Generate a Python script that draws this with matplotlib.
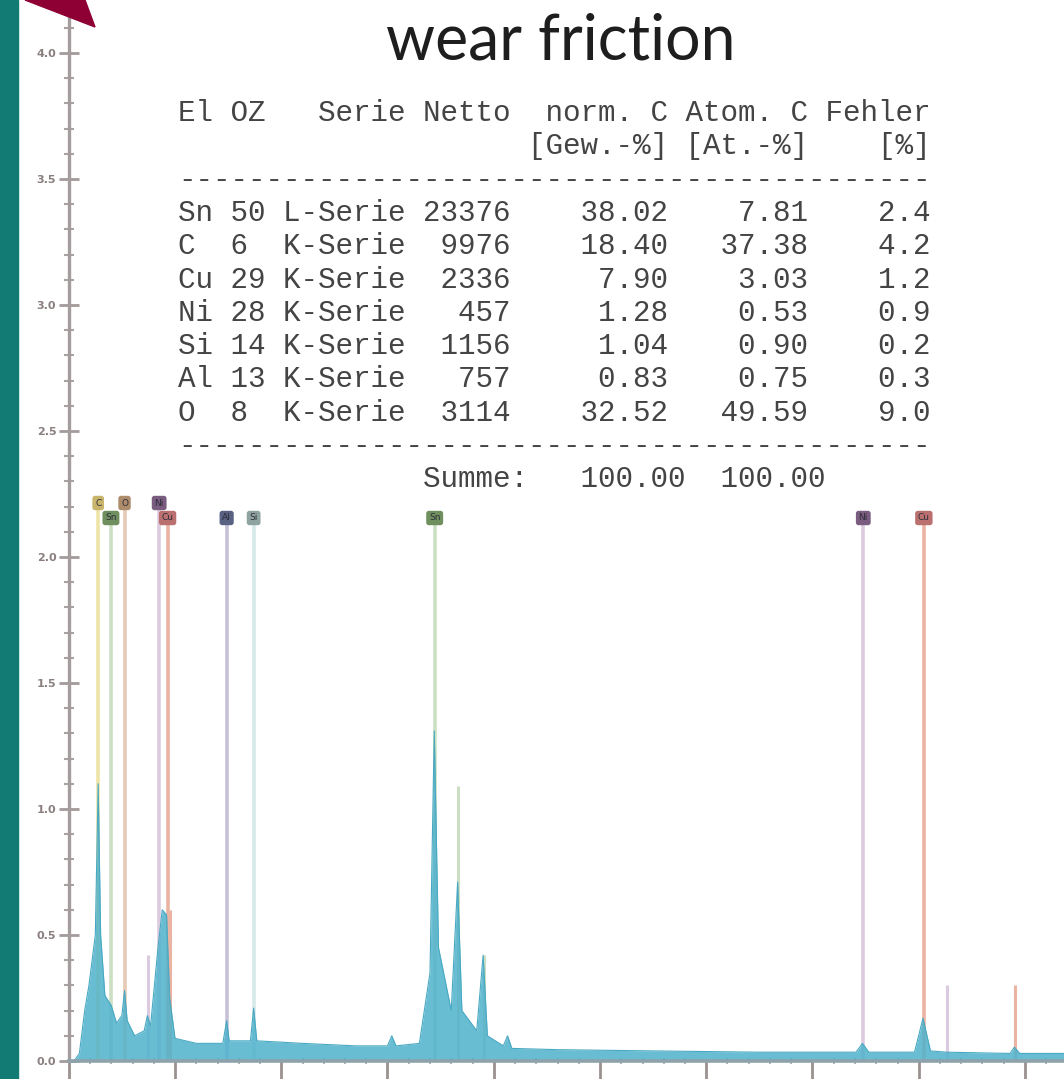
import numpy as np
import matplotlib.pyplot as plt
from matplotlib.patches import Polygon, Rectangle

# spectrum: energy [keV] vs intensity [cps/eV]
energy = [0.05, 0.10, 0.15, 0.19, 0.25, 0.277, 0.30, 0.34, 0.40, 0.45, 0.50, 0.525,
          0.55, 0.62, 0.71, 0.74, 0.77, 0.84, 0.88, 0.92, 0.95, 1.00, 1.20, 1.45,
          1.486, 1.51, 1.71, 1.74, 1.77, 2.20, 2.70, 3.00, 3.04, 3.08, 3.30, 3.40,
          3.44, 3.48, 3.60, 3.66, 3.70, 3.84, 3.90, 3.94, 4.09, 4.13, 4.17, 4.60,
          5.50, 6.50, 7.41, 7.47, 7.53, 7.96, 8.04, 8.11, 8.26, 8.86, 8.90, 8.95, 9.40]
counts = [0.00, 0.03, 0.20, 0.30, 0.50, 1.10, 0.50, 0.26, 0.22, 0.15, 0.18, 0.28,
          0.16, 0.10, 0.12, 0.18, 0.14, 0.45, 0.60, 0.58, 0.25, 0.09, 0.07, 0.07,
          0.16, 0.08, 0.08, 0.21, 0.08, 0.07, 0.06, 0.06, 0.10, 0.06, 0.07, 0.35,
          1.31, 0.45, 0.20, 0.71, 0.20, 0.12, 0.42, 0.10, 0.06, 0.10, 0.05, 0.045,
          0.04, 0.035, 0.035, 0.07, 0.035, 0.035, 0.17, 0.04, 0.035, 0.03, 0.055, 0.03, 0.03]

# element markers (full height, with label box)
mark_el = ['C', 'Sn', 'O', 'Ni', 'Cu', 'Al', 'Si', 'Sn', 'Ni', 'Cu']
mark_kev = [0.277, 0.397, 0.525, 0.851, 0.930, 1.486, 1.740, 3.444, 7.478, 8.048]
mark_row = [1, 2, 1, 1, 2, 2, 2, 2, 2, 2]
# secondary lines (short)
sub_el = ['Ni', 'Cu', 'Sn', 'Sn', 'Ni', 'Cu']
sub_kev = [0.743, 0.949, 3.663, 3.905, 8.265, 8.905]
sub_top = [0.42, 0.60, 1.09, 0.42, 0.30, 0.30]

box_col = {'C': '#c8b46a', 'O': '#ad8c6c', 'Ni': '#7a5c80', 'Sn': '#6f8f5e',
           'Cu': '#bb7070', 'Al': '#5a6284', 'Si': '#8fa3a0'}
line_col = {'C': '#efe4a8', 'O': '#e6cbb8', 'Ni': '#dccbe0', 'Sn': '#cddfc2',
            'Cu': '#eab3a2', 'Al': '#c6c0d6', 'Si': '#d6e8e8'}

table_lines = [
    "El OZ   Serie Netto  norm. C Atom. C Fehler",
    "                    [Gew.-%] [At.-%]    [%]",
    "-------------------------------------------",
    "Sn 50 L-Serie 23376    38.02    7.81    2.4",
    "C  6  K-Serie  9976    18.40   37.38    4.2",
    "Cu 29 K-Serie  2336     7.90    3.03    1.2",
    "Ni 28 K-Serie   457     1.28    0.53    0.9",
    "Si 14 K-Serie  1156     1.04    0.90    0.2",
    "Al 13 K-Serie   757     0.83    0.75    0.3",
    "O  8  K-Serie  3114    32.52   49.59    9.0",
    "-------------------------------------------",
    "              Summe:   100.00  100.00",
]

W, H = 1064, 1079
fig = plt.figure(figsize=(W / 100, H / 100), dpi=100)
fig.patch.set_facecolor('white')

x0 = 68.75
px_kev = 106.25
y0 = 1061
px_cps = 252
ax = fig.add_axes([x0 / W, (H - y0) / H, 1 - x0 / W, y0 / H])
ax.set_xlim(0, (W - x0) / px_kev)
ax.set_ylim(0, y0 / px_cps)

for e, el, r in zip(mark_kev, mark_el, mark_row):
    top = (y0 - (503 if r == 1 else 518)) / px_cps
    ax.plot([e, e], [0, top], color=line_col[el], lw=2.6, zorder=1, solid_capstyle='butt')
for e, el, t in zip(sub_kev, sub_el, sub_top):
    ax.plot([e, e], [0, t], color=line_col[el], lw=2.2, zorder=1, solid_capstyle='butt')

ax.fill_between(energy, counts, 0, color='#4fb2cc', alpha=0.85, lw=0, zorder=2)
ax.plot(energy, counts, color='#49a9c2', lw=0.8, zorder=2)

for e, el, r in zip(mark_kev, mark_el, mark_row):
    yy = (y0 - (503 if r == 1 else 518)) / px_cps
    ax.text(e, yy, el, ha='center', va='center', fontsize=6.5, color='#2e2e3a',
            zorder=4, bbox=dict(boxstyle='round,pad=0.3', fc=box_col[el], ec='none'))

ax.set_yticks(np.arange(0, 4.01, 0.5))
ax.set_yticks(np.arange(0, 4.21, 0.1), minor=True)
ax.set_yticklabels(['%.1f' % v for v in np.arange(0, 4.01, 0.5)])
ax.set_xticks(np.arange(0, 10, 1.0))
ax.set_xticks(np.arange(0, 9.4, 0.2), minor=True)
ax.tick_params(axis='y', which='major', direction='inout', length=14, width=2,
               color='#a39a9a', labelsize=8, labelcolor='#8a7f7f', pad=2)
ax.tick_params(axis='y', which='minor', direction='inout', length=7, width=1.5, color='#aaa2a2')
ax.tick_params(axis='x', which='major', direction='out', length=14, width=2,
               color='#9a9090', labelbottom=False)
ax.tick_params(axis='x', which='minor', direction='inout', length=5, width=1.2, color='#a0a8ae')
for lab in ax.get_yticklabels():
    lab.set_fontweight('bold')
for s in ['top', 'right']:
    ax.spines[s].set_visible(False)
ax.spines['left'].set_color('#a59d9d')
ax.spines['left'].set_linewidth(2.4)
ax.spines['bottom'].set_color('#8fa2ab')
ax.spines['bottom'].set_linewidth(2.6)
ax.set_facecolor('none')

# left bar and corner triangle
fig.patches.append(Rectangle((0, 0), 18 / W, 1, transform=fig.transFigure,
                             color='#127c74', zorder=5))
tri = [(25 / W, 1), (85 / W, 1), (95 / W, 1 - 27 / H)]
fig.patches.append(Polygon(tri, closed=True, transform=fig.transFigure,
                           color='#8e0034', zorder=5))

fig.text(561 / W, 1 - 42 / H, 'wear friction', ha='center', va='center',
         fontsize=45, family='Lato', color='#1e1e1e')

for i, line in enumerate(table_lines):
    fig.text(178 / W, 1 - (113 + i * 33.3) / H, line, ha='left', va='center',
             fontsize=21.1, family='Liberation Mono', color='#444444')

fig.savefig('out.png', dpi=100)
